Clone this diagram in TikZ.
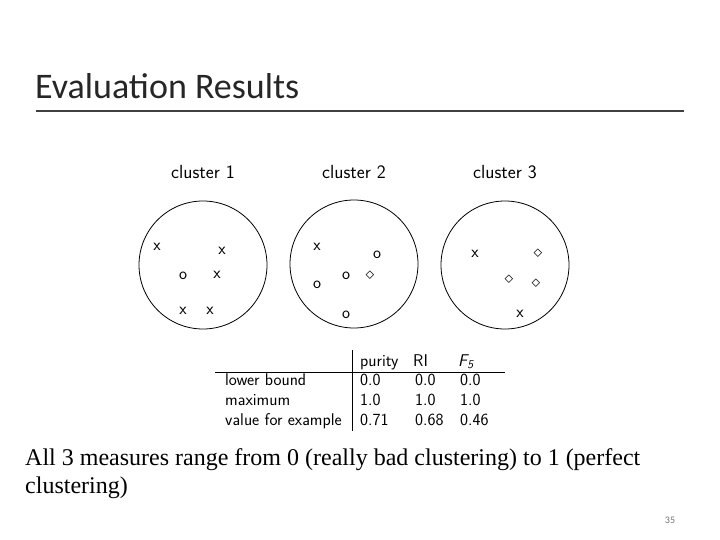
\documentclass[tikz,border=0pt]{standalone}
\usepackage{amsmath}
\usepackage{amssymb}
\usepackage{fontspec}
\newfontfamily\titlefont{Carlito}
\newfontfamily\bodyfont{Liberation Serif}
\usepackage{tikz}

\begin{document}
\begin{tikzpicture}[x=1pt,y=-1pt,
  lbl/.style={font=\sffamily\fontsize{19}{22}\selectfont,inner sep=0pt},
  pt/.style={font=\sffamily\fontsize{17}{19}\selectfont,inner sep=0pt},
  tab/.style={font=\sffamily\fontsize{17}{19}\selectfont,inner sep=0pt,anchor=base west}]
\useasboundingbox (0,0) rectangle (720,540);
\node[font=\titlefont\fontsize{36}{40}\selectfont,text=black!85,anchor=base west,inner sep=0pt] (title) at (35,99) {Evaluation Results};
\draw[line width=2pt,black!75] (36,111)--(684,111);
% clusters
\draw[thick] (203,265) circle (64);
\draw[thick] (354,264) circle (64);
\draw[thick] (505,265) circle (64);
\node[lbl] (c1) at (203,172) {cluster 1};
\node[lbl] (c2) at (354,172) {cluster 2};
\node[lbl] (c3) at (505,172) {cluster 3};
\node[pt] (a1) at (157,247) {x};
\node[pt] (a2) at (222,251) {x};
\node[pt] (a3) at (183,276) {o};
\node[pt] (a4) at (217,275) {x};
\node[pt] (a5) at (183,311) {x};
\node[pt] (a6) at (210,311) {x};
\node[pt] (b1) at (317,247) {x};
\node[pt] (b2) at (377,255) {o};
\node[pt] (b3) at (317,285) {o};
\node[pt] (b4) at (346,276) {o};
\node[pt] (b5) at (370,276) {$\diamond$};
\node[pt] (b6) at (346,315) {o};
\node[pt] (d1) at (475,254) {x};
\node[pt] (d2) at (538,254) {$\diamond$};
\node[pt] (d3) at (509,280) {$\diamond$};
\node[pt] (d4) at (536,284) {$\diamond$};
\node[pt] (d5) at (520,314) {x};
% table
\draw (352,350)--(352,431);
\draw (215,372)--(505,372);
\node[tab] (h1) at (360,366) {purity};
\node[tab] (h2) at (413,366) {RI};
\node[tab] (h3) at (458,366) {\itshape F\textsubscript{5}};
\node[tab] (r1) at (225,385) {lower bound};
\node[tab] (r2) at (225,405) {maximum};
\node[tab] (r3) at (225,425) {value for example};
\node[tab] (v11) at (360,385) {0.0};
\node[tab] (v12) at (415,385) {0.0};
\node[tab] (v13) at (460,385) {0.0};
\node[tab] (v21) at (360,405) {1.0};
\node[tab] (v22) at (415,405) {1.0};
\node[tab] (v23) at (460,405) {1.0};
\node[tab] (v31) at (360,425) {0.71};
\node[tab] (v32) at (415,425) {0.68};
\node[tab] (v33) at (460,425) {0.46};
% summary
\node[font=\bodyfont\fontsize{24}{28}\selectfont,anchor=base west,inner sep=0pt] (s1) at (25,465) {All 3 measures range from 0 (really bad clustering) to 1 (perfect};
\node[font=\bodyfont\fontsize{24}{28}\selectfont,anchor=base west,inner sep=0pt] (s2) at (25,493) {clustering)};
\node[font=\titlefont\fontsize{10}{12}\selectfont,text=black!55,inner sep=0pt] (pg) at (670,520) {35};
\end{tikzpicture}
\end{document}
